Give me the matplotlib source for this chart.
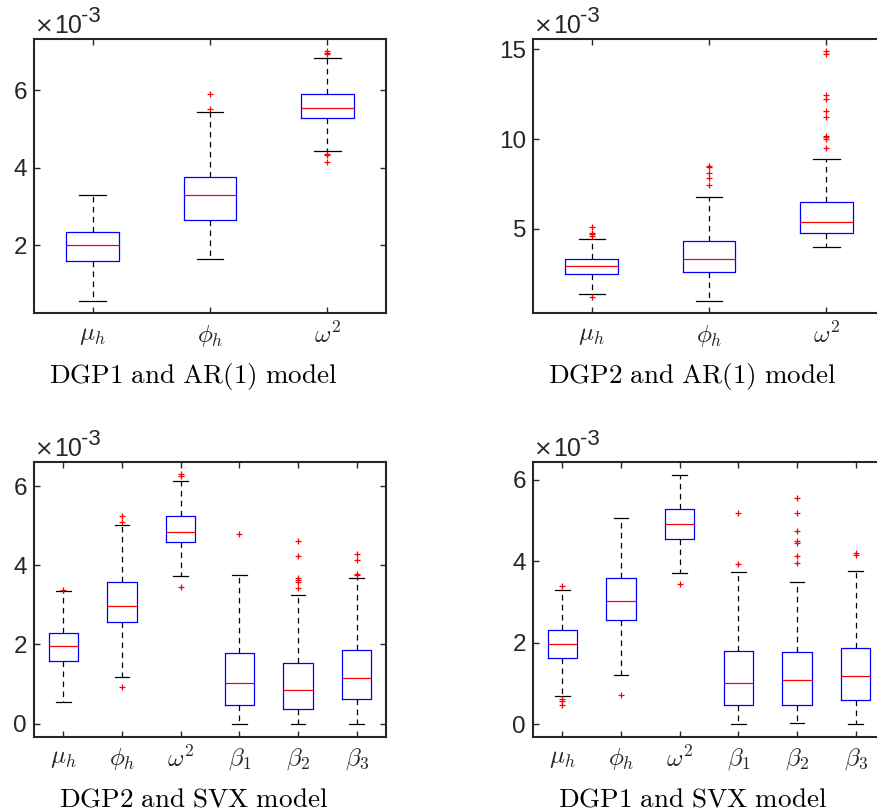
import matplotlib
matplotlib.use("Agg")
import matplotlib.pyplot as plt
from matplotlib.transforms import offset_copy

plt.rcParams["mathtext.fontset"] = "cm"
plt.rcParams["font.family"] = ["Liberation Sans", "DejaVu Sans"]

# box statistics (values in units of 1e-3)
labels3 = [r"$\mu_h$", r"$\phi_h$", r"$\omega^2$"]
labels6 = [r"$\mu_h$", r"$\phi_h$", r"$\omega^2$", r"$\beta_1$", r"$\beta_2$", r"$\beta_3$"]

# DGP1 and AR(1) model
p1_lo = [0.56, 1.64, 4.44]
p1_q1 = [1.59, 2.64, 5.29]
p1_med = [2.00, 3.29, 5.54]
p1_q3 = [2.35, 3.76, 5.89]
p1_hi = [3.29, 5.44, 6.82]
p1_fl = [[], [5.51, 5.91], [4.36, 4.33, 4.14, 6.93, 6.97, 7.02]]

# DGP2 and AR(1) model
p2_lo = [1.37, 1.02, 4.02]
p2_q1 = [2.48, 2.61, 4.80]
p2_med = [2.93, 3.35, 5.41]
p2_q3 = [3.32, 4.35, 6.52]
p2_hi = [4.46, 6.80, 8.89]
p2_fl = [[1.24, 4.61, 4.70, 4.79, 5.13],
         [7.44, 7.83, 8.09, 8.46, 8.52],
         [9.48, 10.02, 10.10, 10.17, 11.24, 11.56, 12.20, 12.44, 14.75, 14.90]]

# DGP2 and SVX model
p3_lo = [0.54, 1.18, 3.73, 0.00, 0.00, 0.00]
p3_q1 = [1.59, 2.56, 4.59, 0.46, 0.36, 0.62]
p3_med = [1.95, 2.96, 4.85, 1.03, 0.84, 1.16]
p3_q3 = [2.30, 3.57, 5.24, 1.79, 1.54, 1.85]
p3_hi = [3.36, 5.01, 6.13, 3.76, 3.26, 3.68]
p3_fl = [[3.38], [0.92, 5.10, 5.24], [3.46, 6.26, 6.32], [4.79],
         [3.43, 3.57, 3.64, 3.69, 4.24, 4.62], [3.75, 3.78, 4.14, 4.28]]

# DGP1 and SVX model
p4_lo = [0.70, 1.20, 3.70, 0.00, 0.02, 0.01]
p4_q1 = [1.61, 2.56, 4.55, 0.47, 0.47, 0.59]
p4_med = [1.96, 3.01, 4.90, 1.02, 1.07, 1.17]
p4_q3 = [2.30, 3.59, 5.27, 1.79, 1.77, 1.86]
p4_hi = [3.29, 5.06, 6.11, 3.74, 3.48, 3.76]
p4_fl = [[0.47, 0.56, 0.61, 3.39], [0.72], [3.43], [3.94, 5.17],
         [3.96, 4.12, 4.45, 4.49, 4.73, 5.19, 5.55], [4.14, 4.19]]

panels = [
    ("DGP1 and AR(1) model", labels3, p1_lo, p1_q1, p1_med, p1_q3, p1_hi, p1_fl,
     (0.25, 7.32), [2, 4, 6], [0.0388, 0.6141, 0.4014, 0.3378], 0.45),
    ("DGP2 and AR(1) model", labels3, p2_lo, p2_q1, p2_med, p2_q3, p2_hi, p2_fl,
     (0.33, 15.56), [5, 10, 15], [0.6078, 0.6141, 0.4014, 0.3378], 0.45),
    ("DGP2 and SVX model", labels6, p3_lo, p3_q1, p3_med, p3_q3, p3_hi, p3_fl,
     (-0.33, 6.61), [0, 2, 4, 6], [0.0388, 0.0916, 0.4014, 0.3387], 0.5),
    ("DGP1 and SVX model", labels6, p4_lo, p4_q1, p4_med, p4_q3, p4_hi, p4_fl,
     (-0.31, 6.43), [0, 2, 4, 6], [0.6078, 0.0916, 0.4014, 0.3387], 0.5),
]

fig = plt.figure(figsize=(8.77, 8.11), dpi=100)
dark = "#262626"

for title, labels, lo, q1, med, q3, hi, fl, ylim, yticks, pos, w in panels:
    ax = fig.add_axes(pos)
    stats = []
    for i in range(len(labels)):
        stats.append(dict(whislo=lo[i], q1=q1[i], med=med[i], q3=q3[i],
                          whishi=hi[i], fliers=fl[i], label=labels[i]))
    ax.bxp(stats, widths=w, showfliers=True,
           boxprops=dict(color="blue", lw=0.9),
           medianprops=dict(color="red", lw=0.9),
           whiskerprops=dict(color="black", lw=0.9, linestyle=(0, (4.5, 3.5))),
           capprops=dict(color="black", lw=0.9),
           flierprops=dict(marker="+", markeredgecolor="red", markersize=4,
                           markeredgewidth=0.9, linestyle="none"))
    ax.set_xlim(0.5, len(labels) + 0.5)
    ax.set_ylim(*ylim)
    ax.set_yticks(yticks)
    ax.set_xticks(range(1, len(labels) + 1))
    ax.set_xticklabels(labels, fontsize=18)
    for lab in ax.get_yticklabels():
        lab.set_fontsize(17.5)
    ax.tick_params(direction="in", top=True, right=True, length=4, width=1,
                   color=dark, labelcolor=dark)
    ax.tick_params(axis="y", pad=5)
    ax.tick_params(axis="x", pad=7)
    for sp in ax.spines.values():
        sp.set_linewidth(1.5)
        sp.set_color(dark)

    # exponent label above the axes
    tr0 = offset_copy(ax.transAxes, fig=fig, x=1.0, y=4.5, units="points")
    ax.text(0, 1, "\u00d7", transform=tr0, fontsize=16, color=dark,
            family="DejaVu Sans", ha="left", va="baseline")
    tr = offset_copy(ax.transAxes, fig=fig, x=14.5, y=4.5, units="points")
    ax.text(0, 1, "10", transform=tr, fontsize=18, color=dark,
            ha="left", va="baseline")
    tr2 = offset_copy(ax.transAxes, fig=fig, x=34.0, y=12, units="points")
    ax.text(0, 1, "-3", transform=tr2, fontsize=16, color=dark,
            ha="left", va="baseline")

    # panel caption below
    cx = pos[0] + (pos[2] * 0.5) - 17 / 877
    fig.text(cx, pos[1] - 70 / 811, r"$\mathrm{" + title.replace(" ", r"\ ") + "}$",
             fontsize=19.5, ha="center", va="baseline", color="black")

fig.savefig("out.png", dpi=100)
